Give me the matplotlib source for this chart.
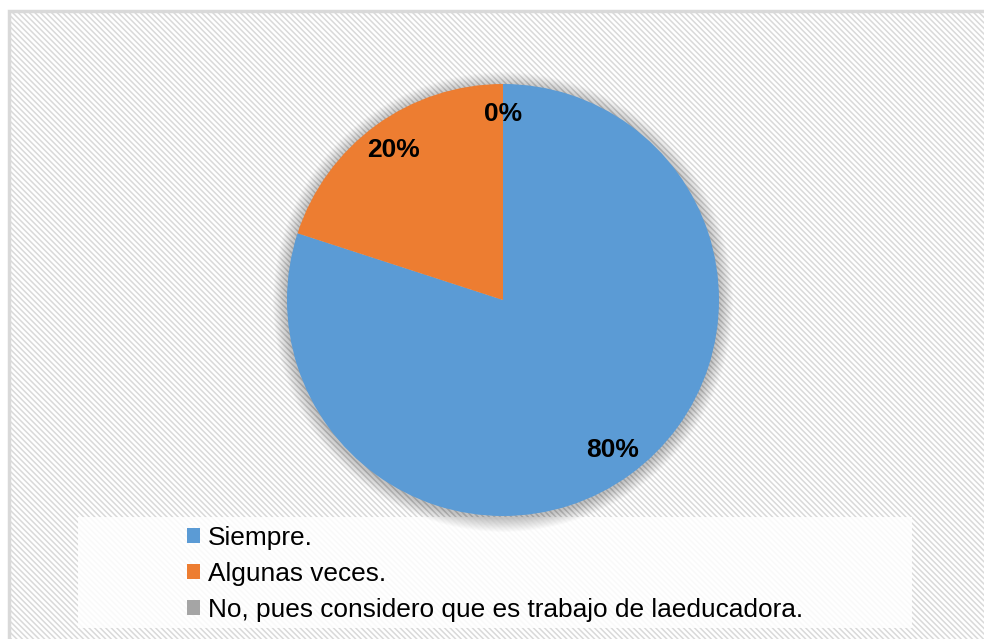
import matplotlib
matplotlib.use("Agg")
import matplotlib.pyplot as plt
from matplotlib.patches import Rectangle, Circle

categories = ["Siempre.", "Algunas veces.", "No, pues considero que es trabajo de laeducadora."]
values = [80, 20, 0]
colors = ["#5B9BD5", "#ED7D31", "#A5A5A5"]

W, H = 984, 639
fig = plt.figure(figsize=(W / 100, H / 100), dpi=100)
fig.patch.set_facecolor("white")
ax = fig.add_axes([0, 0, 1, 1])
ax.set_xlim(0, W)
ax.set_ylim(0, H)
ax.set_aspect("equal")
ax.axis("off")

plt.rcParams["hatch.color"] = "#f3f3f3"
plt.rcParams["hatch.linewidth"] = 1.1
# chart area with faint diagonal pattern
bg = Rectangle((9, -2), W, H - 11 + 2, facecolor="white", edgecolor="#d9d9d9",
               linewidth=2.5, hatch="\\\\\\\\\\\\", zorder=0)
ax.add_patch(bg)

# legend panel
ax.add_patch(Rectangle((78, H - 628), 834, 111, facecolor="white", edgecolor="none", alpha=0.85, zorder=1))

cx, cy, r = 503, H - 300, 216
# soft shadow
for k in range(20, 0, -1):
    ax.add_patch(Circle((cx, cy - 2), r + k * 0.7, facecolor="#000000", edgecolor="none",
                        alpha=0.011, zorder=2))

wedges, texts, autotexts = ax.pie(
    values, colors=colors, startangle=90, counterclock=False,
    center=(cx, cy), radius=r, autopct="%1.0f%%", pctdistance=0.86,
    wedgeprops=dict(linewidth=0, edgecolor="none", zorder=3),
    textprops=dict(fontsize=19, fontweight="bold", color="black", family="Liberation Sans"),
)
for w in wedges:
    w.set_zorder(3)
for t in autotexts:
    t.set_zorder(4)
ax.set_xlim(0, W)
ax.set_ylim(0, H)
ax.axis("off")

leg = ax.legend(wedges, categories, loc="upper left", bbox_to_anchor=(187 / W, 1 - 526 / H),
                bbox_transform=fig.transFigure, frameon=False,
                prop=dict(family="Liberation Sans", size=18.9),
                handlelength=0.5, handleheight=0.5, handletextpad=0.3,
                labelspacing=0.45, borderpad=0, borderaxespad=0)
leg.set_zorder(5)

fig.savefig("out.png", dpi=100, facecolor="white")
